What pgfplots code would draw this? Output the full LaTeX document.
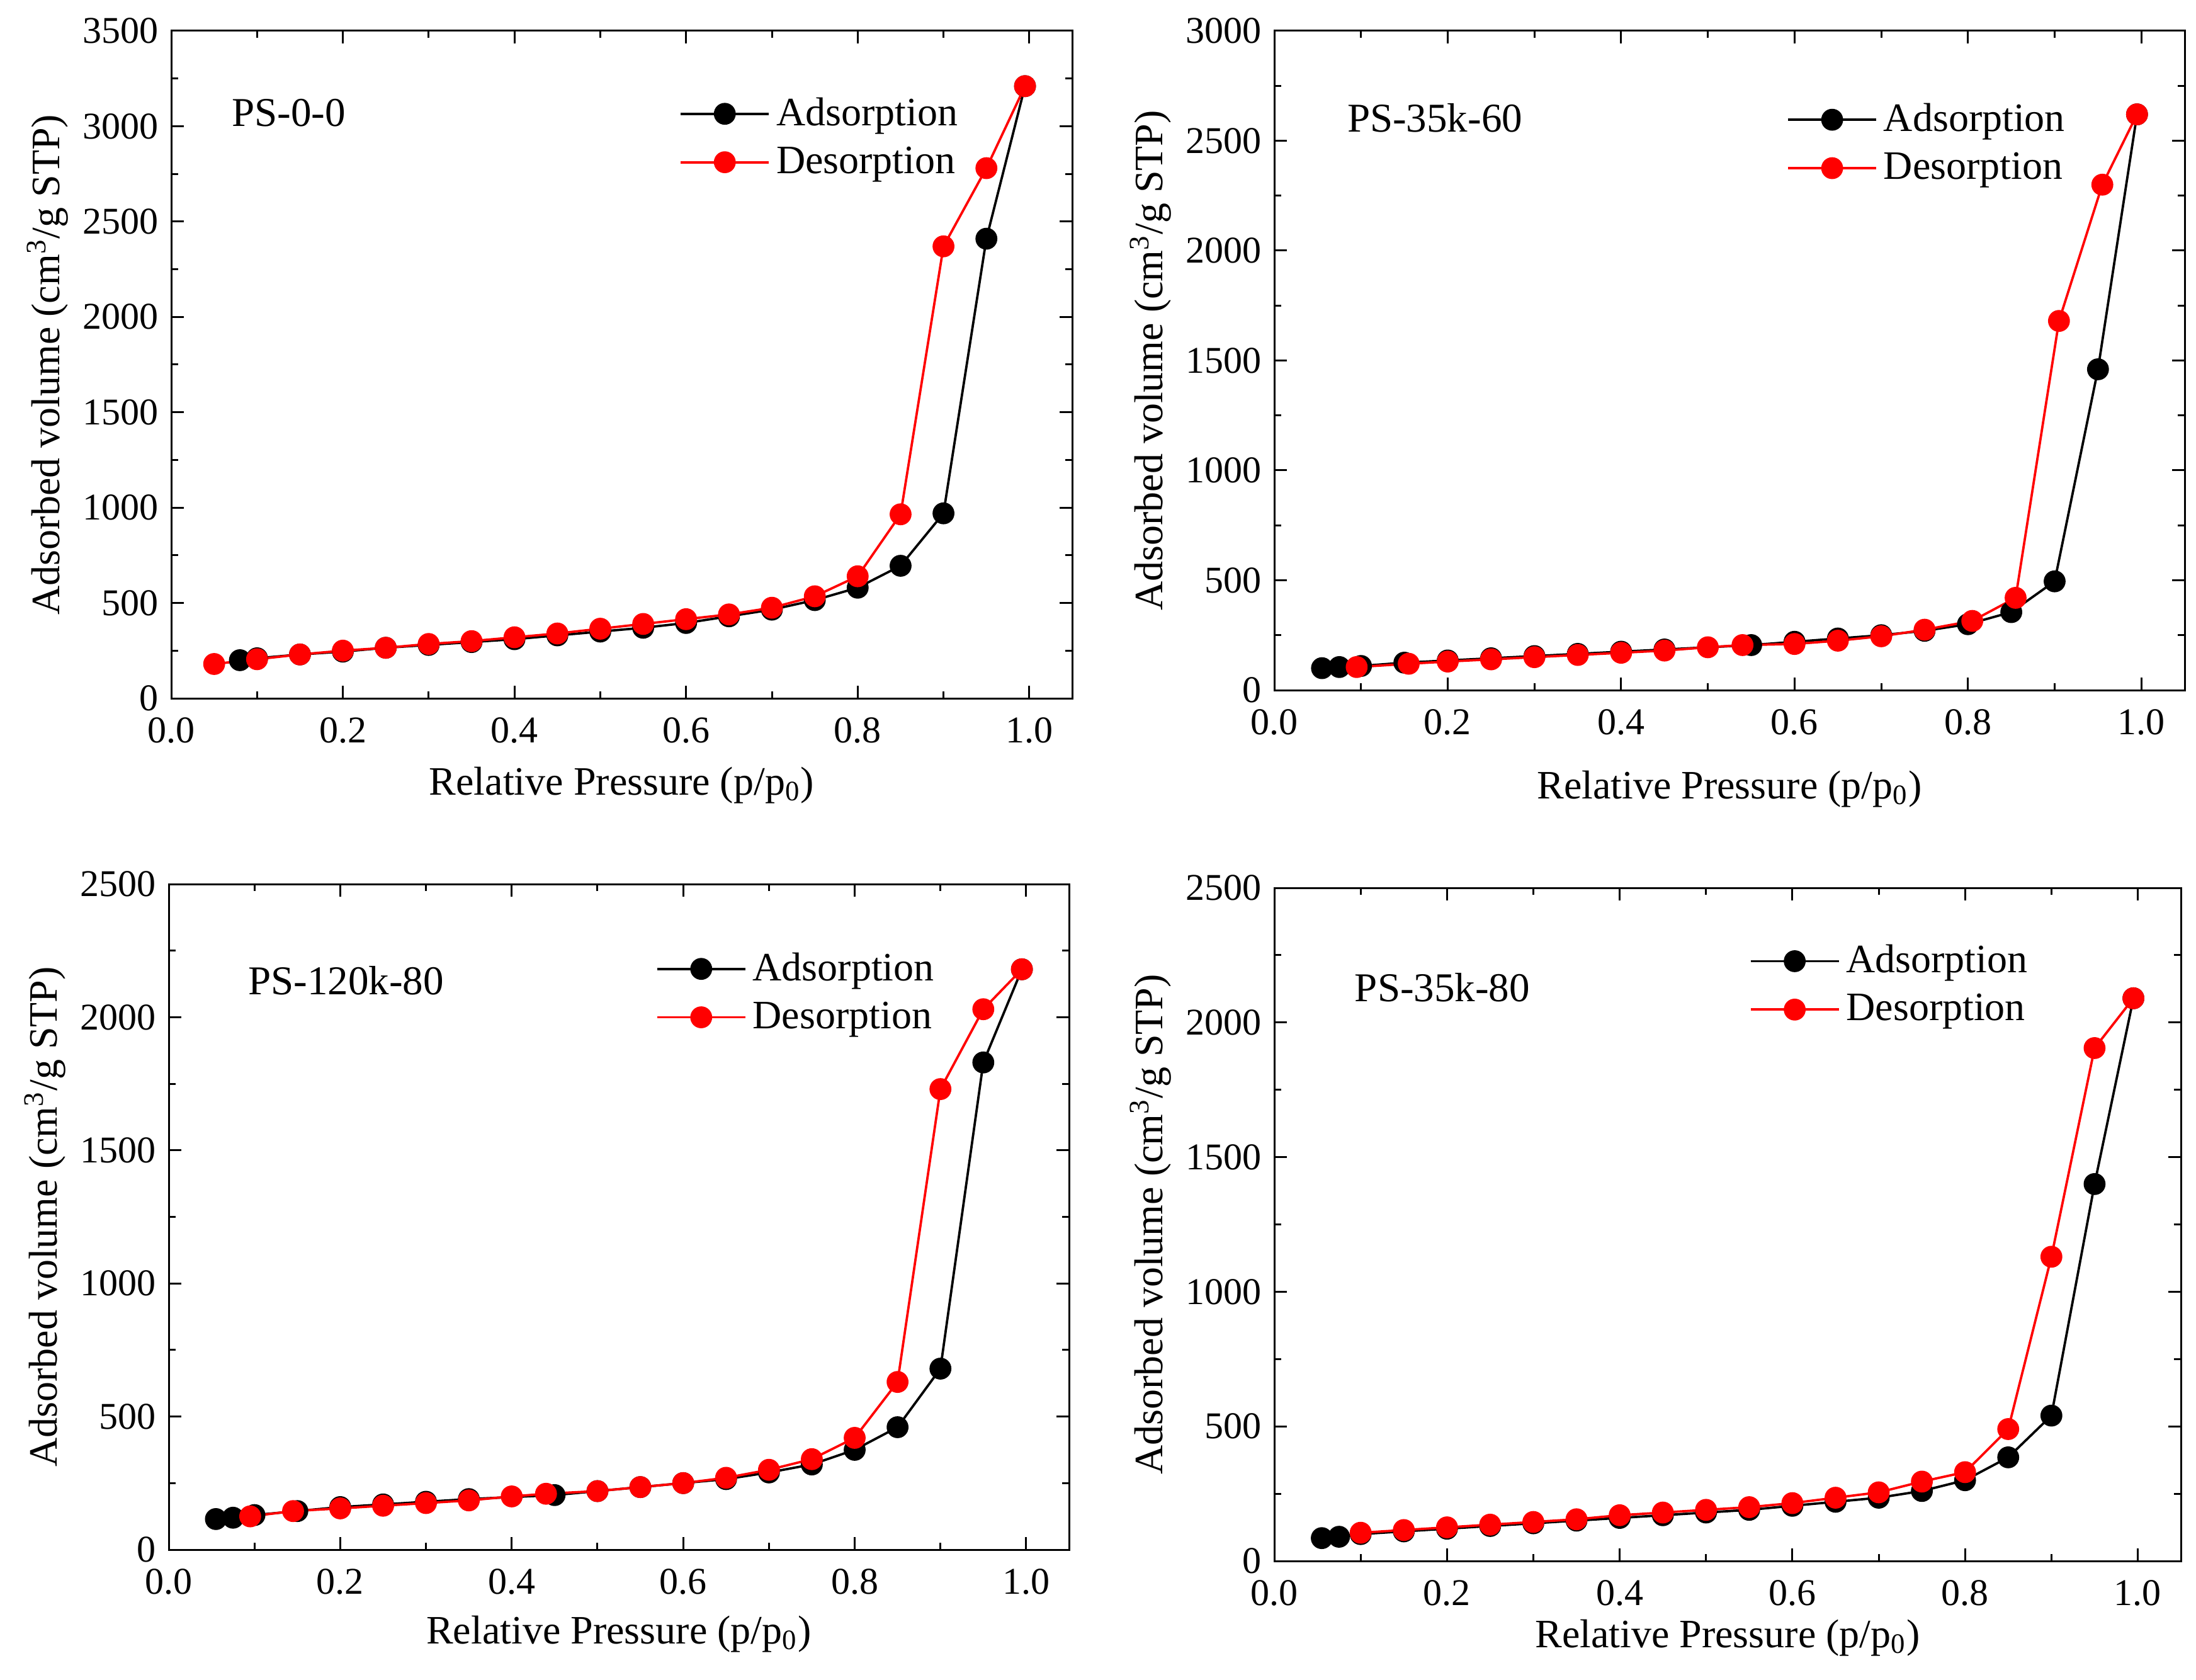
\documentclass[border=0pt]{standalone}
\usepackage{pgfplots}
\pgfplotsset{compat=1.18}
\usepackage{fontspec}
\setmainfont{Liberation Serif}

\tikzset{plab/.style={anchor=west, font=\fontsize{13}{14}\selectfont}}
\pgfplotsset{
  iso/.style={
    scale only axis,
    xmin=0, xmax=1.05, ymin=0,
    xtick={0,0.2,0.4,0.6,0.8,1.0},
    minor x tick num=1, minor y tick num=1,
    tick align=inside,
    major tick length=4pt, minor tick length=2.2pt,
    axis line style={line width=0.6pt},
    every tick/.style={line width=0.6pt, black},
    tick label style={font=\fontsize{12}{14}\selectfont},
    label style={font=\fontsize{12.8}{14}\selectfont},
    /pgf/number format/assume math mode=true,
    xticklabel style={inner sep=1pt, yshift=-5pt, /pgf/number format/.cd, fixed, fixed zerofill, precision=1},
    yticklabel style={inner sep=1pt, xshift=-3pt, /pgf/number format/1000 sep={}},
    scaled ticks=false,
    xlabel={Relative Pressure (p/p\textsubscript{0})},
    ylabel={Adsorbed volume (cm\textsuperscript{3}/g STP)},
    legend style={draw=none, fill=none, font=\fontsize{12.8}{14}\selectfont, row sep=1.2pt, anchor=north west},
    legend cell align=left,
    legend image code/.code={\draw[mark repeat=2,mark phase=2,##1] plot coordinates {(0pt,0pt) (14pt,0pt) (28pt,0pt)};},
  },
  ads/.style={black, line width=0.75pt, mark=*, mark size=3.1pt, mark options={fill=black, solid}},
  des/.style={red, line width=0.75pt, mark=*, mark size=3.1pt, mark options={fill=red, solid}},
}

\begin{document}
\begin{tikzpicture}
\path (0,0) rectangle (697.6pt,533.4pt);

% Panel 1
\begin{axis}[iso, at={(54.4pt,311.6pt)}, anchor=south west, width=286.2pt, height=212pt,
  ymax=3500, ytick={0,500,...,3500}, legend style={at={(0.553,0.92)}},
  xlabel style={yshift=-3.0pt}]
\addplot[ads] coordinates {(0.08,200) (0.1,210) (0.15,230) (0.2,245) (0.25,265) (0.3,280) (0.35,295) (0.4,310) (0.45,330) (0.5,350) (0.55,370) (0.6,395) (0.65,430) (0.7,465) (0.75,515) (0.8,580) (0.85,695) (0.9,970) (0.95,2410) (0.995,3210)};
\addlegendentry{Adsorption}
\addplot[des] coordinates {(0.995,3210) (0.95,2780) (0.9,2370) (0.85,965) (0.8,640) (0.75,535) (0.7,475) (0.65,440) (0.6,415) (0.55,390) (0.5,365) (0.45,340) (0.4,320) (0.35,300) (0.3,285) (0.25,265) (0.2,250) (0.15,230) (0.1,205) (0.05,180)};
\addlegendentry{Desorption}
\node[plab] at (rel axis cs:0.055,0.877) {PS-0-0};
\end{axis}

% Panel 2
\begin{axis}[iso, at={(404.8pt,314.2pt)}, anchor=south west, width=289.2pt, height=209.4pt,
  ymax=3000, ytick={0,500,...,3000}, legend style={at={(0.552,0.91)}},
  xlabel style={yshift=-6.7pt}]
\addplot[ads] coordinates {(0.055,100) (0.075,105) (0.1,110) (0.15,125) (0.2,135) (0.25,145) (0.3,155) (0.35,165) (0.4,175) (0.45,185) (0.55,205) (0.6,220) (0.65,235) (0.7,250) (0.75,270) (0.8,300) (0.85,355) (0.9,495) (0.95,1460) (0.995,2620)};
\addlegendentry{Adsorption}
\addplot[des] coordinates {(0.995,2620) (0.955,2300) (0.905,1680) (0.855,420) (0.805,315) (0.75,275) (0.7,245) (0.65,225) (0.6,210) (0.54,205) (0.5,195) (0.45,180) (0.4,170) (0.35,160) (0.3,150) (0.25,140) (0.2,130) (0.155,120) (0.095,105)};
\addlegendentry{Desorption}
\node[plab] at (rel axis cs:0.068,0.868) {PS-35k-60};
\end{axis}

% Panel 3
\begin{axis}[iso, at={(53.6pt,41.2pt)}, anchor=south west, width=286pt, height=211.4pt,
  ymax=2500, ytick={0,500,...,2500}, legend style={at={(0.530,0.917)}},
  xlabel style={yshift=-2.2pt}]
\addplot[ads] coordinates {(0.055,115) (0.075,120) (0.1,130) (0.15,145) (0.2,160) (0.25,170) (0.3,180) (0.35,190) (0.45,205) (0.5,220) (0.55,235) (0.6,250) (0.65,265) (0.7,290) (0.75,320) (0.8,375) (0.85,460) (0.9,680) (0.95,1830) (0.995,2180)};
\addlegendentry{Adsorption}
\addplot[des] coordinates {(0.995,2180) (0.95,2030) (0.9,1730) (0.85,630) (0.8,420) (0.75,340) (0.7,300) (0.65,270) (0.6,250) (0.55,235) (0.5,220) (0.44,210) (0.4,200) (0.35,185) (0.3,175) (0.25,165) (0.2,155) (0.145,145) (0.095,125)};
\addlegendentry{Desorption}
\node[plab] at (rel axis cs:0.076,0.855) {PS-120k-80};
\end{axis}

% Panel 4
\begin{axis}[iso, at={(404.8pt,37.6pt)}, anchor=south west, width=288pt, height=213.8pt,
  ymax=2500, ytick={0,500,...,2500}, legend style={at={(0.513,0.935)}},
  xlabel style={yshift=0.3pt}]
\addplot[ads] coordinates {(0.055,85) (0.075,90) (0.1,100) (0.15,110) (0.2,120) (0.25,130) (0.3,140) (0.35,150) (0.4,160) (0.45,170) (0.5,180) (0.55,190) (0.6,205) (0.65,220) (0.7,235) (0.75,260) (0.8,300) (0.85,385) (0.9,540) (0.95,1400) (0.995,2090)};
\addlegendentry{Adsorption}
\addplot[des] coordinates {(0.995,2090) (0.95,1905) (0.9,1130) (0.85,490) (0.8,330) (0.75,295) (0.7,255) (0.65,235) (0.6,215) (0.55,200) (0.5,190) (0.45,180) (0.4,170) (0.35,155) (0.3,145) (0.25,135) (0.2,125) (0.15,115) (0.1,105)};
\addlegendentry{Desorption}
\node[plab] at (rel axis cs:0.0765,0.852) {PS-35k-80};
\end{axis}
\end{tikzpicture}
\end{document}
